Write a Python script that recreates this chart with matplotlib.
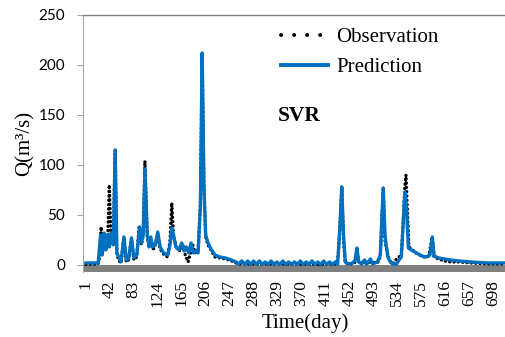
import matplotlib
matplotlib.use("Agg")
import matplotlib.pyplot as plt
from matplotlib.lines import Line2D

# (day, Q in m3/s), breakpoints of each curve
obs_day = [1, 22, 25, 27, 30, 34, 38, 41, 44, 48, 51, 54, 58, 61, 66, 70, 74, 79, 83, 88,
           92, 96, 99, 102, 106, 110, 113, 116, 124, 128, 135, 141, 145, 148, 151, 156, 162,
           167, 171, 176, 179, 184, 188, 193, 197, 200, 203, 206, 210, 216, 222, 230, 240,
           250, 258, 262, 300, 350, 400, 430, 433, 436, 439, 442, 445, 458, 462, 465, 468,
           480, 490, 500, 505, 508, 510, 513, 516, 520, 526, 533, 537, 541, 544, 547, 549,
           551, 554, 560, 566, 572, 580, 588, 594, 597, 605, 615, 625, 640, 660, 690, 718]
obs_q = [0.5, 1, 10, 38, 15, 28, 20, 80, 25, 30, 115, 10, 4, 2, 28, 3, 5, 27, 5, 8,
         38, 20, 30, 104, 28, 18, 25, 15, 30, 16, 10, 8, 25, 62, 28, 18, 14,
         20, 10, 3, 10, 20, 12, 14, 60, 212, 80, 28, 20, 14, 8, 7, 6,
         4, 2, 1, 1, 1, 0.5, 1, 10, 40, 78, 25, 2, 1, 3, 16, 2,
         2, 3, 2, 8, 50, 76, 25, 15, 5, 1, 6, 8, 10, 40, 79, 90,
         60, 18, 15, 12, 10, 8, 9, 28, 8, 6, 4, 3, 3, 2, 1, 1]

pred_day = [1, 22, 26, 29, 32, 35, 38, 41, 44, 48, 51, 54, 57, 61, 66, 70, 74, 79, 83, 88,
            93, 96, 99, 102, 106, 109, 112, 115, 120, 124, 128, 134, 141, 145, 148, 151,
            155, 160, 165, 169, 173, 177, 181, 185, 189, 193, 197, 200, 203, 206, 210, 215,
            222, 230, 240, 250, 258, 262, 268, 273, 278, 283, 288, 293, 298, 303, 308, 313,
            318, 323, 328, 333, 338, 343, 348, 353, 358, 363, 368, 373, 378, 383, 388, 393,
            398, 403, 408, 413, 418, 423, 428, 432, 436, 439, 442, 445, 450, 458, 462, 465,
            468, 473, 478, 482, 488, 492, 500, 505, 508, 510, 513, 515, 518, 522, 526, 533,
            537, 541, 544, 547, 550, 553, 558, 564, 570, 576, 584, 590, 594, 597, 605, 615,
            625, 640, 660, 690, 718]
pred_q = [2, 2, 30, 10, 32, 15, 30, 18, 32, 20, 115, 12, 8, 3, 28, 5, 6, 27, 7, 10,
          38, 22, 30, 96, 30, 18, 28, 18, 20, 33, 18, 12, 10, 20, 37, 30,
          18, 15, 22, 14, 18, 12, 22, 12, 14, 12, 60, 212, 80, 30, 22, 16,
          10, 8, 7, 5, 3, 1, 4, 0.5, 4, 0.5, 4, 0.5, 4, 0.5, 3, 0.5,
          4, 0.5, 3, 0.5, 4, 0.5, 3, 0.5, 3, 0.5, 4, 0.5, 3, 0.5, 4, 0.5,
          3, 0.5, 4, 0.5, 3, 0.5, 3, 1, 40, 78, 30, 3, 1, 2, 5, 17,
          3, 1, 5, 1, 6, 1, 3, 10, 50, 77, 30, 20, 8, 3, 1, 1,
          5, 8, 40, 73, 55, 17, 15, 13, 11, 9, 8, 10, 28, 9, 7, 6,
          5, 4, 3, 2, 2]

x_ticks = list(range(1, 699, 41))
y_ticks = [0, 50, 100, 150, 200, 250]

serif = "Liberation Serif"
blue = "#0070C0"

fig = plt.figure(figsize=(5.05, 3.37), dpi=100)
ax = fig.add_axes([0.1644, 0.193, 0.8356, 0.7626])

ax.axhspan(-7, 0, color="#808080", lw=0, zorder=1)
ax.plot(obs_day, obs_q, color="black", lw=2.4, linestyle=(0, (0.05, 1.25)),
        dash_capstyle="round", zorder=2)
ax.plot(pred_day, pred_q, color=blue, lw=2.4, zorder=3, solid_joinstyle="round")

ax.set_xlim(-4, 718.5)
ax.set_ylim(-7, 250)
ax.set_xticks(x_ticks)
ax.set_xticklabels([str(t) for t in x_ticks], rotation=90, fontfamily=serif, fontsize=12.5)
ax.set_yticks(y_ticks)
ax.set_yticklabels([str(t) for t in y_ticks], fontfamily="Lato", fontsize=11)
ax.tick_params(axis="x", length=0, pad=6)
ax.tick_params(axis="y", length=4, width=0.8, color="#a6a6a6", pad=9)

for s in ["right", "bottom"]:
    ax.spines[s].set_visible(False)
ax.spines["left"].set_color("#a6a6a6")
ax.spines["top"].set_color("#808080")
ax.spines["top"].set_linewidth(1)

fig.text(0.05, 0.575, "Q(m³/s)", rotation=90, ha="center", va="center",
         fontfamily=serif, fontsize=15)
fig.text(0.604, 0.042, "Time(day)", ha="center", va="center", fontfamily=serif, fontsize=15)
fig.text(0.55, 0.655, "SVR", ha="left", va="center", fontfamily=serif, fontsize=15.5,
         fontweight="bold")

handles = [Line2D([], [], color="black", lw=2.8, linestyle=(0, (0.05, 3.3)), dash_capstyle="round"),
           Line2D([], [], color=blue, lw=2.8)]
ax.legend(handles, ["Observation", "Prediction"], loc="upper left",
          bbox_to_anchor=(0.557, 0.918), bbox_transform=fig.transFigure,
          frameon=False, prop={"family": serif, "size": 15}, handlelength=2.25,
          handletextpad=0.38, labelspacing=0.5, borderpad=0, borderaxespad=0)

fig.savefig("out.png", dpi=100)
